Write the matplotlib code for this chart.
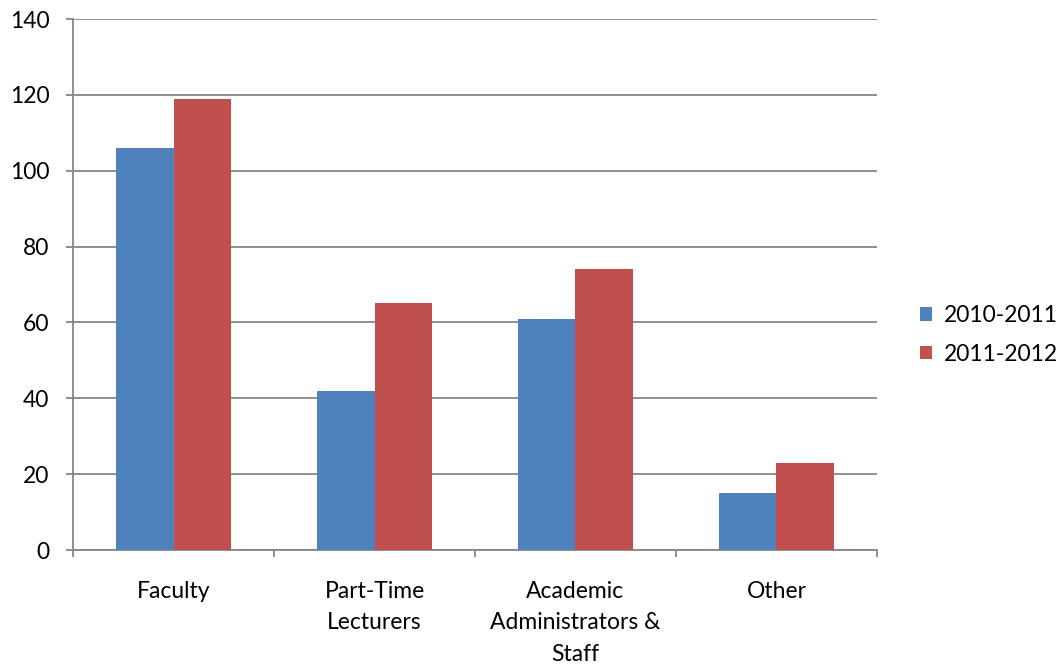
import numpy as np
import matplotlib.pyplot as plt

categories = ["Faculty", "Part-Time\nLecturers", "Academic\nAdministrators &\nStaff", "Other"]
series_names = ["2010-2011", "2011-2012"]
values_2010 = [106, 42, 61, 15]
values_2011 = [119, 65, 74, 23]

plt.rcParams['font.family'] = ['Lato', 'DejaVu Sans']

fig = plt.figure(figsize=(10.63, 6.65), dpi=100)
ax = fig.add_axes([0.0687, 0.1729, 0.7563, 0.7985])

x = np.arange(len(categories))
w = 0.286
grid_c = "#868686"
fs = 16.5

ax.bar(x - w / 2, values_2010, w, color="#4F81BD", label=series_names[0], zorder=3)
ax.bar(x + w / 2, values_2011, w, color="#C0504D", label=series_names[1], zorder=3)

ax.set_xlim(-0.5, len(categories) - 0.5)
ax.set_ylim(0, 140)
ax.set_yticks(range(0, 141, 20))
ax.yaxis.grid(True, color=grid_c, linewidth=1.3, zorder=0)

ax.set_xticks(x)
ax.set_xticklabels(categories, fontsize=fs, linespacing=1.6, va="top")
ax.set_xticks(np.arange(-0.5, len(categories)), minor=True)
ax.tick_params(axis="x", which="major", length=0, pad=22.5)
ax.tick_params(axis="x", which="minor", length=5, color=grid_c, width=1.3)
ax.tick_params(axis="y", length=5, color=grid_c, width=1.3, labelsize=fs, pad=12)

for side in ["top", "right"]:
    ax.spines[side].set_visible(False)
for side in ["left", "bottom"]:
    ax.spines[side].set_color(grid_c)
    ax.spines[side].set_linewidth(1.3)

ax.legend(loc="center left", bbox_to_anchor=(1.053, 0.405), frameon=False,
          fontsize=fs, handlelength=0.55, handleheight=0.55, handletextpad=0.5,
          labelspacing=0.75, borderaxespad=0, borderpad=0)

fig.savefig("out.png", dpi=100)
